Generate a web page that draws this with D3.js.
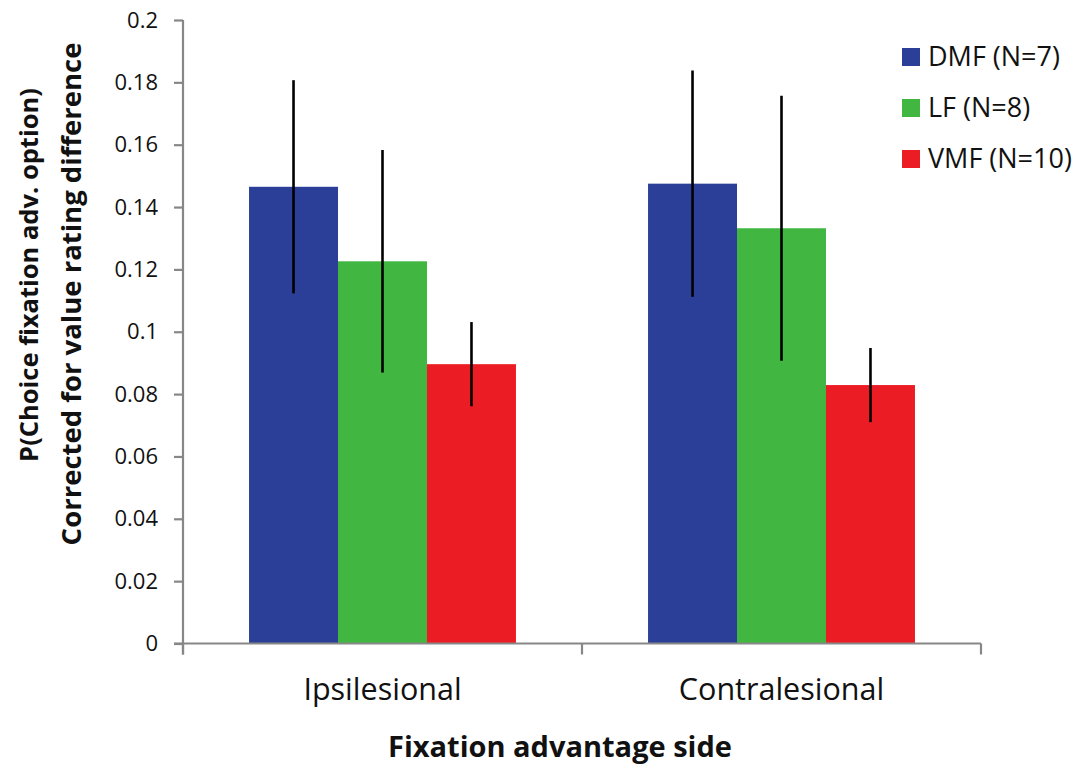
<!DOCTYPE html>
<html>
<head>
<meta charset="utf-8">
<script src="https://cdn.jsdelivr.net/npm/d3@7"></script>
<style>
  html, body { margin: 0; padding: 0; background: #ffffff; }
  svg { display: block; }
  text { font-family: "Open Sans", "DejaVu Sans", sans-serif; fill: #111; }
</style>
</head>
<body>
<svg id="chart" width="1084" height="765"></svg>
<script>
// ---- data ----
const categories = ["Ipsilesional", "Contralesional"];
const seriesNames = ["DMF (N=7)", "LF (N=8)", "VMF (N=10)"];
const seriesColors = ["#2B3F99", "#41B641", "#EC1C24"];
const dmfValues = [0.1465, 0.1475];
const lfValues = [0.1226, 0.1332];
const vmfValues = [0.0896, 0.0829];
const dmfErrors = [0.0342, 0.0363];
const lfErrors = [0.0357, 0.0425];
const vmfErrors = [0.0135, 0.0119];
const yTicks = [0, 0.02, 0.04, 0.06, 0.08, 0.1, 0.12, 0.14, 0.16, 0.18, 0.2];
const yTickLabels = ["0", "0.02", "0.04", "0.06", "0.08", "0.1", "0.12", "0.14", "0.16", "0.18", "0.2"];
const yTitleLines = ["P(Choice fixation adv. option)", "Corrected for value rating difference"];
const xTitle = "Fixation advantage side";

(function () {
const seriesValues = [dmfValues, lfValues, vmfValues];
const seriesErrors = [dmfErrors, lfErrors, vmfErrors];

const rows = [];
categories.forEach((c, ci) => {
  seriesNames.forEach((s, si) => {
    rows.push({cat: c, series: s, si, value: seriesValues[si][ci], err: seriesErrors[si][ci]});
  });
});

const svg = d3.select("#chart");
const pLeft = 183, pRight = 981, pTop = 20, pBottom = 643.5;
const axisColor = "#878787";

const y = d3.scaleLinear().domain([0, 0.2]).range([pBottom, pTop]);
const x0 = d3.scaleBand().domain(categories).range([pLeft, pRight]).paddingInner(0.331).paddingOuter(0.1655);
const x1 = d3.scaleBand().domain(seriesNames).range([0, x0.bandwidth()]).padding(0);
const color = d3.scaleOrdinal().domain(seriesNames).range(seriesColors);

// bars
svg.append("g").selectAll("rect").data(rows).join("rect")
  .attr("x", d => x0(d.cat) + x1(d.series))
  .attr("y", d => y(d.value))
  .attr("width", x1.bandwidth())
  .attr("height", d => y(0) - y(d.value))
  .attr("fill", d => color(d.series));

// error bars
svg.append("g").selectAll("line").data(rows).join("line")
  .attr("x1", d => x0(d.cat) + x1(d.series) + x1.bandwidth() / 2)
  .attr("x2", d => x0(d.cat) + x1(d.series) + x1.bandwidth() / 2)
  .attr("y1", d => y(d.value + d.err))
  .attr("y2", d => y(d.value - d.err))
  .attr("stroke", "#000")
  .attr("stroke-width", 2.6);

// y axis
const yAxis = d3.axisLeft(y).tickValues(yTicks)
  .tickFormat((d, i) => yTickLabels[i]).tickSize(9).tickPadding(16);
const gy = svg.append("g").attr("transform", `translate(${pLeft},0)`).call(yAxis);
gy.select(".domain").remove();
gy.selectAll(".tick line").attr("stroke", axisColor).attr("stroke-width", 2.2);
gy.selectAll(".tick text").attr("font-size", 22).attr("font-family", "Open Sans").attr("fill", "#111");
svg.append("line").attr("x1", pLeft).attr("x2", pLeft).attr("y1", pTop).attr("y2", pBottom + 11)
  .attr("stroke", axisColor).attr("stroke-width", 2.2);

// x axis
svg.append("line").attr("x1", pLeft - 9).attr("x2", pRight).attr("y1", pBottom).attr("y2", pBottom)
  .attr("stroke", axisColor).attr("stroke-width", 2.2);
const boundaries = [pLeft, (pLeft + pRight) / 2, pRight];
svg.append("g").selectAll("line").data(boundaries).join("line")
  .attr("x1", d => d).attr("x2", d => d).attr("y1", pBottom).attr("y2", pBottom + 11)
  .attr("stroke", axisColor).attr("stroke-width", 2.2);

// category labels
svg.append("g").selectAll("text").data(categories).join("text")
  .attr("x", d => x0(d) + x0.bandwidth() / 2)
  .attr("y", 700)
  .attr("text-anchor", "middle")
  .attr("font-size", 30.5)
  .text(d => d);

// x title
svg.append("text").attr("x", 560).attr("y", 757).attr("text-anchor", "middle")
  .attr("font-size", 29).attr("font-weight", "bold").text(xTitle);

// y title
const yTitleX = [38, 81];
const yTitleY = [275, 294];
const yTitleSize = [25.5, 27.5];
yTitleLines.forEach((t, i) => {
  svg.append("text")
    .attr("transform", `translate(${yTitleX[i]},${yTitleY[i]}) rotate(-90)`)
    .attr("text-anchor", "middle")
    .attr("font-size", yTitleSize[i]).attr("font-weight", "bold")
    .text(t);
});

// legend
const legend = svg.append("g").selectAll("g").data(seriesNames).join("g")
  .attr("transform", (d, i) => `translate(902,${48 + i * 51})`);
legend.append("rect").attr("width", 18).attr("height", 18).attr("fill", d => color(d));
legend.append("text").attr("x", 26).attr("y", 18).attr("font-size", 27).text(d => d);
})();
</script>
</body>
</html>
